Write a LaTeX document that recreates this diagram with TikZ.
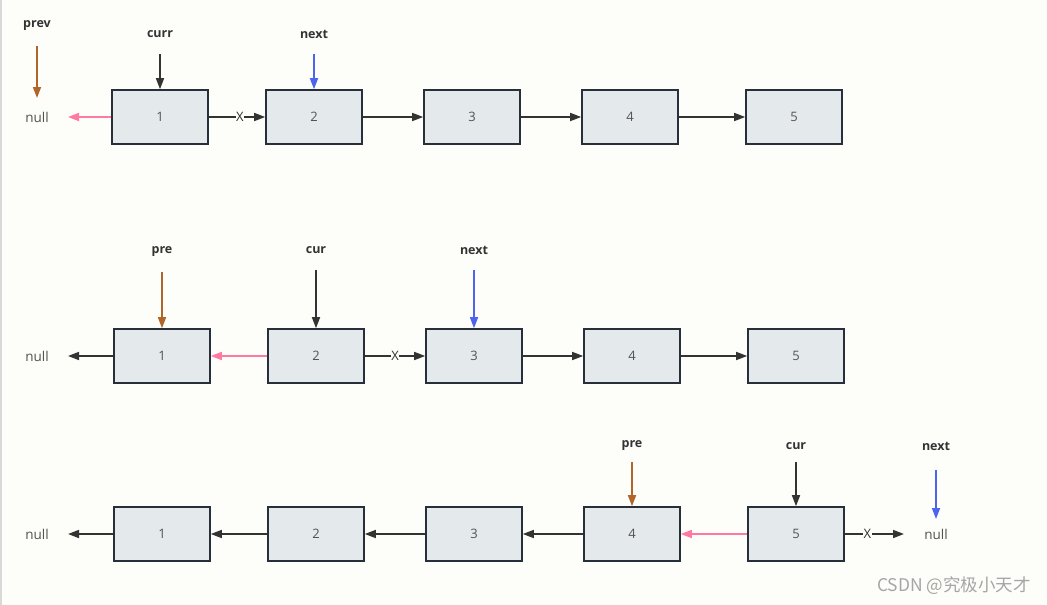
\documentclass[tikz,border=0pt]{standalone}
\usepackage{fontspec}
\setmainfont{Open Sans}
\newfontfamily\cjk{Noto Sans CJK SC}
\usetikzlibrary{arrows.meta}
\definecolor{bg}{HTML}{FDFDFA}
\definecolor{boxfill}{HTML}{E4EAEC}
\definecolor{boxline}{HTML}{27303A}
\definecolor{dark}{HTML}{333333}
\definecolor{brownc}{HTML}{B0662A}
\definecolor{bluec}{HTML}{4F64EE}
\definecolor{pinkc}{HTML}{FF7AA2}
\tikzset{
  x=1pt,y=-1pt,
  listbox/.style={draw=boxline,fill=boxfill,line width=1.6pt,minimum width=96pt,minimum height=54pt,inner sep=0pt,font=\fontsize{13}{15}\selectfont,text=dark!85},
  nulltxt/.style={font=\fontsize{13.5}{15}\selectfont,text=dark!85,inner sep=0pt},
  lbl/.style={font=\bfseries\fontsize{12.5}{14}\selectfont,text=dark,inner sep=0pt},
  arr/.style={line width=1.6pt,-{Triangle[length=11pt,width=8pt]}},
  xmark/.style={fill=bg,inner sep=0.5pt,font=\fontsize{13}{15}\selectfont,text=dark},
}
\begin{document}
\begin{tikzpicture}
\fill[bg] (0,0) rectangle (1047,605);
\useasboundingbox (0,0) rectangle (1047,605);
\draw[line width=2pt,draw=gray!30] (1,0) -- (1,605);
% ---------- Row 1 ----------
\node[listbox] (a1) at (160,117) {1};
\node[listbox] (a2) at (314,117) {2};
\node[listbox] (a3) at (472,117) {3};
\node[listbox] (a4) at (630,117) {4};
\node[listbox] (a5) at (794,117) {5};
\node[nulltxt] (an) at (37,117) {null};
\coordinate (anr) at (68,117);
\draw[arr,pinkc] (a1.west) -- (anr);
\draw[arr,dark] (a1.east) -- node[xmark,pos=0.55]{X} (a2.west);
\draw[arr,dark] (a2) -- (a3);
\draw[arr,dark] (a3) -- (a4);
\draw[arr,dark] (a4) -- (a5);
\node[lbl] (aprev) at (37,26) {prev};
\coordinate (aprevs) at (37,46);
\coordinate (aprevt) at (37,98);
\draw[arr,brownc] (aprevs) -- (aprevt);
\node[lbl] (acurr) at (160,34) {curr};
\coordinate (acurrs) at (160,54);
\draw[arr,dark] (acurrs) -- (a1.north);
\node[lbl] (anext) at (314,34) {next};
\coordinate (anexts) at (314,54);
\draw[arr,bluec] (anexts) -- (a2.north);
% ---------- Row 2 ----------
\node[listbox] (b1) at (162,356) {1};
\node[listbox] (b2) at (316,356) {2};
\node[listbox] (b3) at (474,356) {3};
\node[listbox] (b4) at (632,356) {4};
\node[listbox] (b5) at (796,356) {5};
\node[nulltxt] (bn) at (37,356) {null};
\coordinate (bnr) at (68,356);
\draw[arr,dark] (b1.west) -- (bnr);
\draw[arr,pinkc] (b2.west) -- (b1.east);
\draw[arr,dark] (b2.east) -- node[xmark,pos=0.5]{X} (b3.west);
\draw[arr,dark] (b3) -- (b4);
\draw[arr,dark] (b4) -- (b5);
\node[lbl] (bpre) at (162,252) {pre};
\coordinate (bpres) at (162,272);
\draw[arr,brownc] (bpres) -- (b1.north);
\node[lbl] (bcur) at (316,250) {cur};
\coordinate (bcurs) at (316,270);
\draw[arr,dark] (bcurs) -- (b2.north);
\node[lbl] (bnext) at (474,250) {next};
\coordinate (bnexts) at (474,270);
\draw[arr,bluec] (bnexts) -- (b3.north);
% ---------- Row 3 ----------
\node[listbox] (c1) at (162,534) {1};
\node[listbox] (c2) at (316,534) {2};
\node[listbox] (c3) at (474,534) {3};
\node[listbox] (c4) at (632,534) {4};
\node[listbox] (c5) at (796,534) {5};
\node[nulltxt] (cn) at (37,534) {null};
\coordinate (cnr) at (68,534);
\draw[arr,dark] (c1.west) -- (cnr);
\draw[arr,dark] (c2.west) -- (c1.east);
\draw[arr,dark] (c3.west) -- (c2.east);
\draw[arr,dark] (c4.west) -- (c3.east);
\draw[arr,pinkc] (c5.west) -- (c4.east);
\node[nulltxt] (cnull) at (936,534) {null};
\coordinate (cnl) at (904,534);
\draw[arr,dark] (c5.east) -- node[xmark,pos=0.38]{X} (cnl);
\node[lbl] (cpre) at (632,446) {pre};
\coordinate (cpres) at (632,462);
\draw[arr,brownc] (cpres) -- (c4.north);
\node[lbl] (ccur) at (796,446) {cur};
\coordinate (ccurs) at (796,462);
\draw[arr,dark] (ccurs) -- (c5.north);
\node[lbl] (cnext) at (936,446) {next};
\coordinate (cnexts) at (936,470);
\coordinate (cnextt) at (936,519);
\draw[arr,bluec] (cnexts) -- (cnextt);
% watermark
\node[font=\cjk\fontsize{17.5}{20}\selectfont,text=gray!70,anchor=east,inner sep=0pt] (wm) at (1031,586) {CSDN @究极小天才};
\end{tikzpicture}
\end{document}
